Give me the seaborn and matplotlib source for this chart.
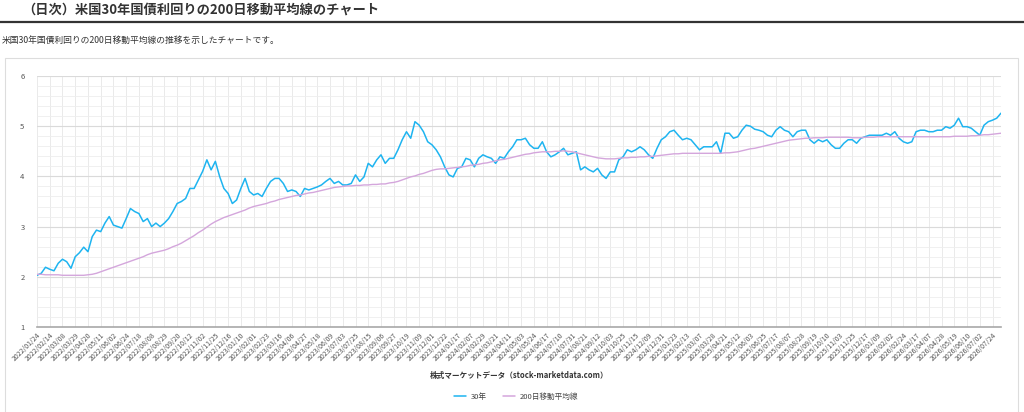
import numpy as np
import pandas as pd
import matplotlib
matplotlib.use("Agg")
import matplotlib.pyplot as plt
from matplotlib.lines import Line2D
from matplotlib.patches import Rectangle
from matplotlib.ticker import MultipleLocator
import seaborn as sns

# weekly readings (every 5 trading days) of the chart
yield_30y = [
    2.03, 2.07, 2.19, 2.15, 2.12, 2.27, 2.35, 2.30, 2.17, 2.40,
    2.48, 2.59, 2.50, 2.80, 2.93, 2.90, 3.07, 3.20, 3.03, 3.00,
    2.97, 3.16, 3.36, 3.30, 3.26, 3.10, 3.16, 3.00, 3.07, 3.00,
    3.07, 3.16, 3.30, 3.46, 3.50, 3.56, 3.76, 3.76, 3.93, 4.10,
    4.33, 4.13, 4.30, 4.00, 3.76, 3.66, 3.46, 3.53, 3.76, 3.96,
    3.70, 3.63, 3.66, 3.60, 3.76, 3.90, 3.96, 3.96, 3.86, 3.70,
    3.73, 3.70, 3.60, 3.76, 3.73, 3.76, 3.79, 3.83, 3.90, 3.96,
    3.86, 3.90, 3.83, 3.83, 3.86, 4.03, 3.90, 3.99, 4.26, 4.19,
    4.33, 4.43, 4.26, 4.36, 4.36, 4.53, 4.73, 4.89, 4.76, 5.09,
    5.02, 4.89, 4.69, 4.63, 4.53, 4.39, 4.19, 4.03, 3.99, 4.16,
    4.19, 4.36, 4.33, 4.19, 4.36, 4.43, 4.39, 4.36, 4.26, 4.39,
    4.36, 4.49, 4.59, 4.73, 4.73, 4.76, 4.63, 4.56, 4.56, 4.69,
    4.49, 4.39, 4.43, 4.49, 4.56, 4.43, 4.46, 4.49, 4.13, 4.19,
    4.13, 4.09, 4.16, 4.03, 3.96, 4.09, 4.09, 4.33, 4.39, 4.53,
    4.49, 4.53, 4.59, 4.53, 4.43, 4.36, 4.56, 4.73, 4.79, 4.89,
    4.92, 4.82, 4.73, 4.76, 4.73, 4.63, 4.53, 4.59, 4.59, 4.59,
    4.69, 4.46, 4.86, 4.86, 4.76, 4.79, 4.92, 5.02, 5.00, 4.94,
    4.92, 4.89, 4.82, 4.79, 4.92, 4.99, 4.92, 4.89, 4.79, 4.89,
    4.92, 4.92, 4.73, 4.66, 4.73, 4.69, 4.73, 4.63, 4.56, 4.56,
    4.66, 4.73, 4.73, 4.66, 4.76, 4.79, 4.82, 4.82, 4.82, 4.82,
    4.86, 4.82, 4.89, 4.76, 4.69, 4.66, 4.69, 4.89, 4.92, 4.92,
    4.89, 4.89, 4.92, 4.92, 4.99, 4.96, 5.02, 5.16, 4.99, 4.99,
    4.96, 4.89, 4.82, 5.02, 5.09, 5.12, 5.16, 5.26,
]

ma_200 = [
    2.05, 2.05, 2.04, 2.04, 2.04, 2.04, 2.03, 2.03, 2.03, 2.03,
    2.03, 2.03, 2.04, 2.05, 2.07, 2.10, 2.13, 2.16, 2.19, 2.22,
    2.25, 2.28, 2.31, 2.34, 2.37, 2.40, 2.44, 2.47, 2.49, 2.51,
    2.53, 2.56, 2.60, 2.63, 2.67, 2.72, 2.77, 2.82, 2.88, 2.93,
    2.99, 3.05, 3.10, 3.14, 3.18, 3.21, 3.24, 3.27, 3.30, 3.33,
    3.37, 3.40, 3.42, 3.44, 3.46, 3.49, 3.51, 3.54, 3.56, 3.58,
    3.60, 3.62, 3.63, 3.65, 3.67, 3.68, 3.70, 3.72, 3.74, 3.76,
    3.78, 3.79, 3.80, 3.81, 3.81, 3.82, 3.82, 3.83, 3.83, 3.84,
    3.84, 3.85, 3.85, 3.87, 3.88, 3.90, 3.93, 3.96, 3.99, 4.01,
    4.04, 4.06, 4.09, 4.12, 4.14, 4.15, 4.15, 4.16, 4.17, 4.18,
    4.19, 4.20, 4.22, 4.23, 4.24, 4.26, 4.27, 4.29, 4.31, 4.33,
    4.34, 4.36, 4.38, 4.40, 4.42, 4.44, 4.45, 4.47, 4.48, 4.49,
    4.49, 4.49, 4.50, 4.50, 4.51, 4.50, 4.49, 4.47, 4.45, 4.43,
    4.41, 4.39, 4.37, 4.36, 4.35, 4.35, 4.35, 4.36, 4.37, 4.37,
    4.38, 4.38, 4.39, 4.39, 4.40, 4.40, 4.41, 4.42, 4.43, 4.44,
    4.45, 4.45, 4.46, 4.46, 4.46, 4.46, 4.46, 4.46, 4.46, 4.46,
    4.46, 4.46, 4.47, 4.47, 4.48, 4.49, 4.51, 4.53, 4.55, 4.56,
    4.58, 4.60, 4.62, 4.64, 4.66, 4.68, 4.70, 4.72, 4.73, 4.74,
    4.75, 4.76, 4.76, 4.77, 4.77, 4.77, 4.78, 4.78, 4.78, 4.78,
    4.78, 4.78, 4.77, 4.77, 4.77, 4.78, 4.78, 4.78, 4.79, 4.79,
    4.79, 4.79, 4.79, 4.79, 4.79, 4.79, 4.79, 4.79, 4.79, 4.79,
    4.79, 4.79, 4.79, 4.79, 4.79, 4.79, 4.80, 4.80, 4.80, 4.80,
    4.81, 4.81, 4.82, 4.83, 4.83, 4.84, 4.85, 4.86,
]

# one label every 15 trading days = every 3rd weekly point
tick_labels = [
    "2022/01/24", "2022/02/14", "2022/03/08", "2022/03/29", "2022/04/20", "2022/05/11",
    "2022/06/02", "2022/06/24", "2022/07/18", "2022/08/08", "2022/08/29", "2022/09/20",
    "2022/10/12", "2022/11/02", "2022/11/25", "2022/12/16", "2023/01/10", "2023/02/01",
    "2023/02/23", "2023/03/16", "2023/04/06", "2023/04/27", "2023/05/18", "2023/06/09",
    "2023/07/03", "2023/07/25", "2023/08/15", "2023/09/06", "2023/09/27", "2023/10/19",
    "2023/11/09", "2023/12/01", "2023/12/22", "2024/01/17", "2024/02/07", "2024/02/29",
    "2024/03/21", "2024/04/11", "2024/05/03", "2024/05/24", "2024/06/17", "2024/07/10",
    "2024/07/31", "2024/08/21", "2024/09/12", "2024/10/03", "2024/10/25", "2024/11/15",
    "2024/12/09", "2024/12/31", "2025/01/23", "2025/02/13", "2025/03/07", "2025/03/28",
    "2025/04/21", "2025/05/12", "2025/06/03", "2025/06/25", "2025/07/17", "2025/08/07",
    "2025/08/28", "2025/09/19", "2025/10/10", "2025/11/03", "2025/11/25", "2025/12/17",
    "2026/01/09", "2026/02/02", "2026/02/24", "2026/03/17", "2026/04/07", "2026/04/28",
    "2026/05/19", "2026/06/10", "2026/07/02", "2026/07/24",
]

series_names = ["30年", "200日移動平均線"]
colors = ["#1eb4f0", "#d4a6dc"]

idx = np.arange(len(yield_30y))
df = pd.concat([
    pd.DataFrame({"x": idx, "y": yield_30y, "series": series_names[0]}),
    pd.DataFrame({"x": idx, "y": ma_200, "series": series_names[1]}),
])

sns.set_theme(style="white")
plt.rcParams['font.family'] = ['Noto Sans CJK JP', 'DejaVu Sans']

fig = plt.figure(figsize=(10.24, 4.12), dpi=100)
ax = fig.add_axes([37 / 1024, 1 - 327 / 412, 964 / 1024, 251 / 412])

sns.lineplot(data=df, x="x", y="y", hue="series", palette=colors,
             hue_order=series_names, ax=ax, linewidth=1.1, legend=False)
# purple line a bit thinner
ax.lines[1].set_linewidth(1.0)

ax.set_ylim(1, 6)
ax.set_xlim(0, len(yield_30y) - 1)
ax.yaxis.set_major_locator(MultipleLocator(1))
ax.yaxis.set_minor_locator(MultipleLocator(0.2))
ax.set_xticks(np.arange(len(tick_labels)) * 3)
ax.set_xticklabels(tick_labels, rotation=45, ha="right", rotation_mode="anchor")

ax.grid(which="major", axis="y", color="#dadada", linewidth=0.8)
ax.grid(which="minor", axis="y", color="#eeeeee", linewidth=0.6)
ax.grid(which="major", axis="x", color="#e6e6e6", linewidth=0.6)
ax.set_axisbelow(True)

for s in ["top", "right", "left"]:
    ax.spines[s].set_visible(False)
ax.spines["bottom"].set_color("#a8a8a8")
ax.spines["bottom"].set_linewidth(1.2)

ax.tick_params(axis="y", which="both", length=0, pad=9, labelsize=5.5, labelcolor="#555555")
ax.tick_params(axis="x", which="both", length=0, pad=3, labelsize=5, labelcolor="#555555")

ax.set_ylabel("")
ax.set_xlabel("株式マーケットデータ（stock-marketdata.com）", fontsize=5.5,
              fontweight="bold", color="#333333")
ax.xaxis.set_label_coords(0.5, -0.175)

handles = [Line2D([], [], color=c, linewidth=1.1) for c in colors]
fig.legend(handles, series_names, loc="center", bbox_to_anchor=(0.504, 0.036),
           ncol=2, frameon=False, fontsize=5.5, handlelength=1.6,
           columnspacing=2.2, handletextpad=0.6, labelcolor="#444444")

# page header
fig.text(22 / 1024, 1 - 10 / 412, "（日次）米国30年国債利回りの200日移動平均線のチャート",
         fontsize=9.5, fontweight="bold", color="#333333", va="center", ha="left")
fig.add_artist(Line2D([0, 1], [1 - 22 / 412, 1 - 22 / 412], color="#333333",
                      linewidth=1.6, transform=fig.transFigure))
fig.text(2 / 1024, 1 - 40 / 412, "米国30年国債利回りの200日移動平均線の推移を示したチャートです。",
         fontsize=6.3, color="#333333", va="center", ha="left")
fig.add_artist(Rectangle((5 / 1024, -0.05), 1013 / 1024, 1 - 58 / 412 + 0.05,
                         transform=fig.transFigure, fill=False,
                         edgecolor="#dddddd", linewidth=0.8))

fig.savefig("out.png", dpi=100)
